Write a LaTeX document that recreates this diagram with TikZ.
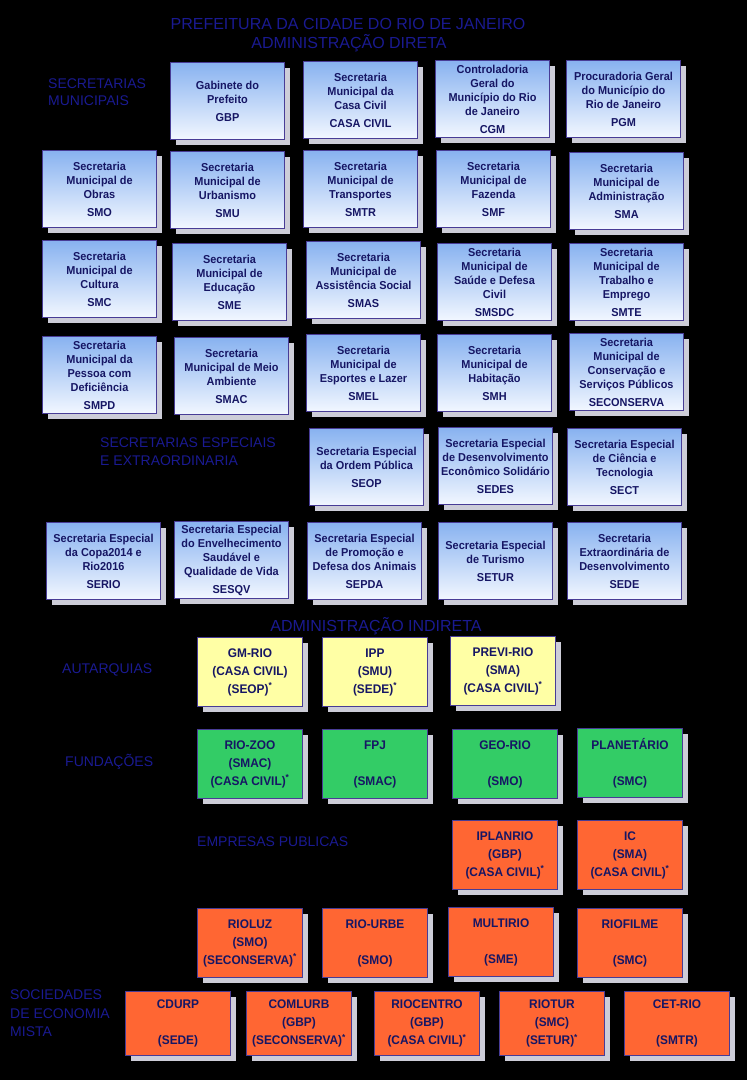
\documentclass[tikz,border=0pt]{standalone}
\usepackage{fontspec}
\setmainfont{Liberation Sans}
\newfontfamily\boxf{Liberation Sans}[FakeStretch=0.95]
\usetikzlibrary{shadows}
\definecolor{navyt}{RGB}{22,22,100}
\definecolor{bordc}{RGB}{72,60,150}
\definecolor{bluetop}{RGB}{136,178,240}
\definecolor{bluebot}{RGB}{242,247,255}
\definecolor{yel}{RGB}{255,255,165}
\definecolor{grn}{RGB}{51,204,102}
\definecolor{org}{RGB}{255,102,51}
\definecolor{shadc}{RGB}{205,205,216}
\definecolor{labc}{RGB}{26,26,145}
\tikzset{
  shd/.style={drop shadow={shadow xshift=5pt, shadow yshift=-5pt, fill=shadc, opacity=1}},
  sec/.style={shd, draw=bordc, line width=1pt, top color=bluetop, bottom color=bluebot,
    anchor=north west, minimum width=114pt, minimum height=77pt, inner sep=1pt,
    align=center, text=navyt, font=\boxf\bfseries\fontsize{11.5}{14}\selectfont},
  ind/.style={shd, draw=bordc, line width=1pt, anchor=north west, minimum width=105pt,
    minimum height=69pt, inner sep=1pt, align=center, text=navyt,
    font=\boxf\bfseries\fontsize{12.5}{18}\selectfont},
  aut/.style={ind, fill=yel},
  fun/.style={ind, fill=grn},
  emp/.style={ind, fill=org},
  soc/.style={emp, minimum height=64pt},
  lab/.style={text=labc, font=\fontsize{14}{17}\selectfont, align=left, anchor=north west, inner sep=0pt},
  ttl/.style={text=labc, font=\fontsize{16}{19}\selectfont, inner sep=0pt},
}
\begin{document}
\begin{tikzpicture}[x=1pt,y=-1pt]
\fill[black] (0,0) rectangle (747,1080);
\useasboundingbox (0,0) rectangle (747,1080);
% titles
\node[ttl] (t1) at (348,24) {PREFEITURA DA CIDADE DO RIO DE JANEIRO};
\node[ttl] (t2) at (349,43) {ADMINISTRAÇÃO DIRETA};
\node[lab] (lsm) at (48,79) {SECRETARIAS\\MUNICIPAIS};
\node[lab, font=\fontsize{14}{18}\selectfont] (lse) at (100,438) {SECRETARIAS ESPECIAIS\\E EXTRAORDINARIA};
\node[ttl] (t3) at (376,626) {ADMINISTRAÇÃO INDIRETA};
\node[lab, anchor=west] (laut) at (62,670) {AUTARQUIAS};
\node[lab, anchor=west] (lfun) at (65,762) {FUNDAÇÕES};
\node[lab, anchor=west] (lemp) at (197,842) {EMPRESAS PUBLICAS};
\node[lab, font=\fontsize{14}{18.5}\selectfont] (lsoc) at (10,990) {SOCIEDADES\\DE ECONOMIA\\MISTA};
% row 1
\node[sec] (gbp) at (170,62) {Gabinete do\\Prefeito\\[4pt]GBP};
\node[sec] (cc) at (303,61) {Secretaria\\Municipal da\\Casa Civil\\[4pt]CASA CIVIL};
\node[sec] (cgm) at (435,60) {Controladoria\\Geral do\\Município do Rio\\de Janeiro\\[4pt]CGM};
\node[sec] (pgm) at (566,60) {Procuradoria Geral\\do Município do\\Rio de Janeiro\\[4pt]PGM};
% row 2
\node[sec] (smo) at (42,150) {Secretaria\\Municipal de\\Obras\\[4pt]SMO};
\node[sec] (smu) at (170,151) {Secretaria\\Municipal de\\Urbanismo\\[4pt]SMU};
\node[sec] (smtr) at (303,150) {Secretaria\\Municipal de\\Transportes\\[4pt]SMTR};
\node[sec] (smf) at (436,150) {Secretaria\\Municipal de\\Fazenda\\[4pt]SMF};
\node[sec] (sma) at (569,152) {Secretaria\\Municipal de\\Administração\\[4pt]SMA};
% row 3
\node[sec] (smc) at (42,240) {Secretaria\\Municipal de\\Cultura\\[4pt]SMC};
\node[sec] (sme) at (172,243) {Secretaria\\Municipal de\\Educação\\[4pt]SME};
\node[sec] (smas) at (306,241) {Secretaria\\Municipal de\\Assistência Social\\[4pt]SMAS};
\node[sec] (smsdc) at (437,243) {Secretaria\\Municipal de\\Saúde e Defesa\\Civil\\[4pt]SMSDC};
\node[sec] (smte) at (569,243) {Secretaria\\Municipal de\\Trabalho e\\Emprego\\[4pt]SMTE};
% row 4
\node[sec] (smpd) at (42,336) {Secretaria\\Municipal da\\Pessoa com\\Deficiência\\[4pt]SMPD};
\node[sec] (smac) at (174,337) {Secretaria\\Municipal de Meio\\Ambiente\\[4pt]SMAC};
\node[sec] (smel) at (306,334) {Secretaria\\Municipal de\\Esportes e Lazer\\[4pt]SMEL};
\node[sec] (smh) at (437,334) {Secretaria\\Municipal de\\Habitação\\[4pt]SMH};
\node[sec] (secons) at (569,333) {Secretaria\\Municipal de\\Conservação e\\Serviços Públicos\\[4pt]SECONSERVA};
% row 5
\node[sec] (seop) at (309,428) {Secretaria Especial\\da Ordem Pública\\[4pt]SEOP};
\node[sec] (sedes) at (438,427) {Secretaria Especial\\de Desenvolvimento\\Econômico Solidário\\[4pt]SEDES};
\node[sec] (sect) at (567,428) {Secretaria Especial\\de Ciência e\\Tecnologia\\[4pt]SECT};
% row 6
\node[sec] (serio) at (46,522) {Secretaria Especial\\da Copa2014 e\\Rio2016\\[4pt]SERIO};
\node[sec] (sesqv) at (174,521) {Secretaria Especial\\do Envelhecimento\\Saudável e\\Qualidade de Vida\\[4pt]SESQV};
\node[sec] (sepda) at (307,522) {Secretaria Especial\\de Promoção e\\Defesa dos Animais\\[4pt]SEPDA};
\node[sec] (setur) at (438,522) {Secretaria Especial\\de Turismo\\[4pt]SETUR};
\node[sec] (sede) at (567,522) {Secretaria\\Extraordinária de\\Desenvolvimento\\[4pt]SEDE};
% autarquias
\node[aut] (gmrio) at (197,637) {GM-RIO\\(CASA CIVIL)\\(SEOP)\textsuperscript{*}};
\node[aut] (ipp) at (322,637) {IPP\\(SMU)\\(SEDE)\textsuperscript{*}};
\node[aut] (previ) at (450,636) {PREVI-RIO\\(SMA)\\(CASA CIVIL)\textsuperscript{*}};
% fundacoes
\node[fun] (riozoo) at (197,729) {RIO-ZOO\\(SMAC)\\(CASA CIVIL)\textsuperscript{*}};
\node[fun] (fpj) at (322,729) {FPJ\\~\\(SMAC)};
\node[fun] (georio) at (452,729) {GEO-RIO\\~\\(SMO)};
\node[fun] (plan) at (577,728) {PLANETÁRIO\\~\\(SMC)};
% empresas publicas
\node[emp] (iplan) at (452,820) {IPLANRIO\\(GBP)\\(CASA CIVIL)\textsuperscript{*}};
\node[emp] (ic) at (577,820) {IC\\(SMA)\\(CASA CIVIL)\textsuperscript{*}};
\node[emp] (rioluz) at (197,908) {RIOLUZ\\(SMO)\\(SECONSERVA)\textsuperscript{*}};
\node[emp] (riourbe) at (322,908) {RIO-URBE\\~\\(SMO)};
\node[emp] (multi) at (448,907) {MULTIRIO\\~\\(SME)};
\node[emp] (riofilme) at (577,908) {RIOFILME\\~\\(SMC)};
% sociedades
\node[soc] (cdurp) at (125,991) {CDURP\\~\\(SEDE)};
\node[soc] (comlurb) at (246,991) {COMLURB\\(GBP)\\(SECONSERVA)\textsuperscript{*}};
\node[soc] (riocentro) at (374,991) {RIOCENTRO\\(GBP)\\(CASA CIVIL)\textsuperscript{*}};
\node[soc] (riotur) at (499,991) {RIOTUR\\(SMC)\\(SETUR)\textsuperscript{*}};
\node[soc] (cetrio) at (624,991) {CET-RIO\\~\\(SMTR)};
\end{tikzpicture}
\end{document}
